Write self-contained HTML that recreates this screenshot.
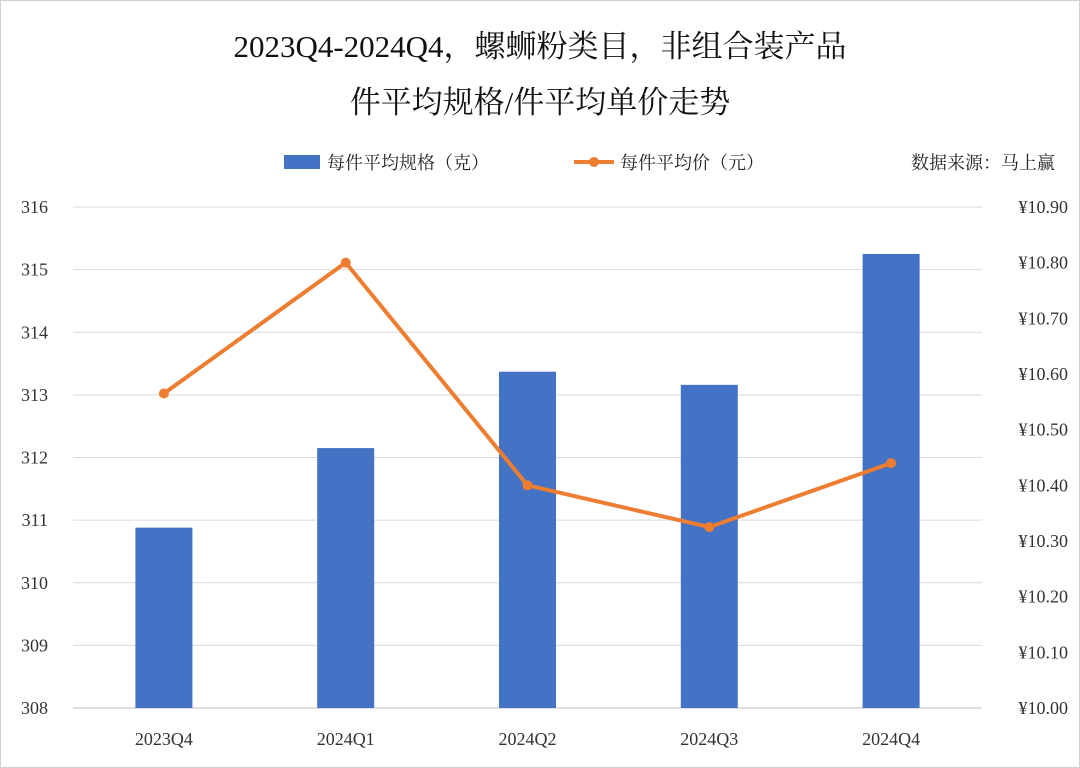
<!DOCTYPE html>
<html><head><meta charset="utf-8"><style>
body{margin:0;background:#fff;}
#c{position:absolute;left:0;top:0;width:1080px;height:768px;}
</style></head><body>
<svg id="c" width="1080" height="768" xmlns="http://www.w3.org/2000/svg" font-family="'Liberation Serif','Noto Serif CJK SC',serif">
<rect x="0.5" y="0.5" width="1079" height="767" fill="#fff" stroke="#d0d0d0"/>
<text x="540" y="57" text-anchor="middle" font-size="31" fill="#111">2023Q4-2024Q4，螺蛳粉类目，非组合装产品</text>
<text x="540" y="113" text-anchor="middle" font-size="31" fill="#111">件平均规格/件平均单价走势</text>
<g>
<rect x="284" y="155" width="36" height="14" fill="#4472C4"/>
<text x="327" y="169" font-size="18" fill="#222">每件平均规格（克）</text>
<line x1="574" y1="162" x2="614" y2="162" stroke="#ED7D31" stroke-width="4"/>
<circle cx="594" cy="162" r="5" fill="#ED7D31"/>
<text x="620" y="169" font-size="18" fill="#222">每件平均价（元）</text>
</g>
<text x="1055" y="169" text-anchor="end" font-size="18" fill="#222">数据来源：马上赢</text>
<g id="grid"></g><g id="bars"></g><g id="line"></g><g id="axes"></g>
</svg>
<script>
const categories=["2023Q4","2024Q1","2024Q2","2024Q3","2024Q4"];
const sizeValues=[310.88,312.15,313.37,313.16,315.25];
const priceValues=[10.565,10.80,10.40,10.325,10.44];
const leftTicks=[308,309,310,311,312,313,314,315,316];
const rightTicks=[10.0,10.1,10.2,10.3,10.4,10.5,10.6,10.7,10.8,10.9];
const NS="http://www.w3.org/2000/svg";
const X0=73,X1=982,Y0=708,Y1=207;
const band=(X1-X0)/categories.length;
const xc=i=>X0+band*(i+0.5);
const yL=v=>Y0-(v-308)/(316-308)*(Y0-Y1);
const yR=v=>Y0-(v-10)/(0.9)*(Y0-Y1);
function mk(t,a,p){const e=document.createElementNS(NS,t);for(const k in a)e.setAttribute(k,a[k]);p.appendChild(e);return e;}
const grid=document.getElementById('grid'),bars=document.getElementById('bars'),line=document.getElementById('line'),axes=document.getElementById('axes');
leftTicks.forEach(v=>{
 const l=mk('line',{x1:X0,x2:X1,y1:yL(v),y2:yL(v),stroke:v===308?'#bfbfbf':'#d9d9d9','stroke-width':1},grid);
 
 
 const t=mk('text',{x:48,y:yL(v)+6,'text-anchor':'end','font-size':18,fill:'#333'},axes);
 t.textContent=v;
 
 
});
rightTicks.forEach(v=>{
 const t=mk('text',{x:1068,y:yR(v)+6,'text-anchor':'end','font-size':18,fill:'#333'},axes);
 t.textContent='¥'+v.toFixed(2);
 
 
});
categories.forEach((c,i)=>{
 const t=mk('text',{x:xc(i),y:745,'text-anchor':'middle','font-size':18,fill:'#333'},axes);
 t.textContent=c;
 
 
 const b=mk('rect',{x:xc(i)-28.5,y:yL(sizeValues[i]),width:57,height:Y0-yL(sizeValues[i]),fill:'#4472C4'},bars);
 
 
});
const pl=mk('polyline',{points:priceValues.map((v,i)=>xc(i)+','+yR(v)).join(' '),fill:'none',stroke:'#ED7D31','stroke-width':4,'stroke-linejoin':'round'},line);


priceValues.forEach((v,i)=>{
 const p=mk('circle',{cx:xc(i),cy:yR(v),r:5,fill:'#ED7D31'},line);
 
 
});
</script>
</body></html>
